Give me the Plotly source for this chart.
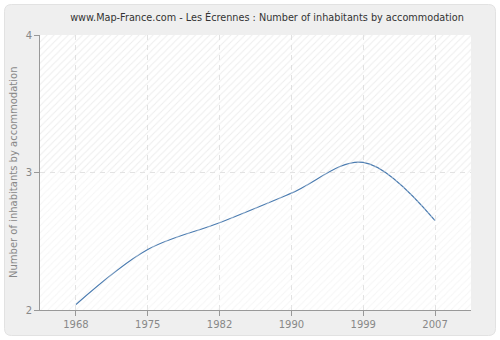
import plotly.graph_objects as go

years = ["1968", "1975", "1982", "1990", "1999", "2007"]
values = [2.04, 2.44, 2.635, 2.85, 3.074, 2.65]
y_ticks = [2, 3, 4]

W, H = 500, 340
L, R, T, B = 40, 29, 35, 30
pw, ph = W - L - R, H - T - B

def px(x):
    return (x - L) / pw

def py(y):
    return (H - B - y) / ph

fig = go.Figure()

# faint hatch background (decoration)
fig.add_trace(go.Bar(x=[0.5], y=[0.5], base=[0.5], width=[1], xaxis="x2", yaxis="y2",
                     marker=dict(color="rgba(0,0,0,0)", line=dict(width=0),
                                 pattern=dict(shape="/", fgcolor="#dcdcdc", size=5, solidity=0.2)),
                     hoverinfo="skip", showlegend=False))
fig.add_trace(go.Bar(x=[0.5], y=[0.5], base=[0], width=[1], xaxis="x2", yaxis="y2",
                     marker=dict(color="rgba(0,0,0,0)", line=dict(width=0),
                                 pattern=dict(shape="/", fgcolor="#ececec", size=5, solidity=0.2)),
                     hoverinfo="skip", showlegend=False))

fig.add_trace(go.Scatter(x=years, y=values, mode="lines",
                         line=dict(color="#4a7bb0", width=1.2, shape="spline", smoothing=1.0),
                         showlegend=False))

# rounded outer panel
x0, x1 = px(4.5), px(495.5)
y0, y1 = py(335.5), py(4.5)
rx, ry = 7 / pw, 7 / ph
path = (f"M {x0+rx},{y0} L {x1-rx},{y0} Q {x1},{y0} {x1},{y0+ry} "
        f"L {x1},{y1-ry} Q {x1},{y1} {x1-rx},{y1} L {x0+rx},{y1} "
        f"Q {x0},{y1} {x0},{y1-ry} L {x0},{y0+ry} Q {x0},{y0} {x0+rx},{y0} Z")
fig.add_shape(type="path", path=path, xref="paper", yref="paper", layer="below",
              fillcolor="#efefef", line=dict(color="#e2e2e2", width=1))
fig.add_shape(type="rect", x0=0, x1=1, y0=0, y1=1, xref="paper", yref="paper",
              layer="below", fillcolor="#ffffff", line=dict(width=0))

fig.add_annotation(text="Number of inhabitants by accommodation", textangle=-90,
                   xref="paper", yref="paper", x=px(13), y=py(172),
                   xanchor="center", yanchor="middle", showarrow=False,
                   font=dict(family="DejaVu Sans", size=10, color="#888888"))

fig.update_layout(
    width=W, height=H,
    margin=dict(l=L, r=R, t=T, b=B, autoexpand=False),
    paper_bgcolor="#ffffff",
    plot_bgcolor="rgba(0,0,0,0)",
    barmode="overlay",
    font=dict(family="DejaVu Sans", size=10, color="#888888"),
    title=dict(text="www.Map-France.com - Les Écrennes : Number of inhabitants by accommodation",
               x=267 / W, xanchor="center", y=1 - 18 / H, yanchor="middle",
               font=dict(family="DejaVu Sans", size=9.7, color="#333333")),
    xaxis=dict(type="category", range=[-0.5, 5.5], showline=True, linecolor="#999999",
               linewidth=1, ticks="outside", ticklen=5, tickcolor="#999999",
               showgrid=True, gridcolor="#e2e2e2", griddash="5px,5px", gridwidth=1,
               tickfont=dict(size=10, color="#888888"), zeroline=False, fixedrange=True,
               automargin=False),
    yaxis=dict(range=[2, 4], tickvals=y_ticks, showline=True, linecolor="#999999",
               linewidth=1, ticks="outside", ticklen=5, tickcolor="#999999",
               showgrid=True, gridcolor="#e2e2e2", griddash="5px,5px", gridwidth=1,
               tickfont=dict(size=10, color="#888888"), zeroline=False, automargin=False),
    xaxis2=dict(overlaying="x", range=[0, 1], visible=False, fixedrange=True),
    yaxis2=dict(overlaying="y", range=[0, 1], visible=False, fixedrange=True),
)

fig.write_html("out.html")
